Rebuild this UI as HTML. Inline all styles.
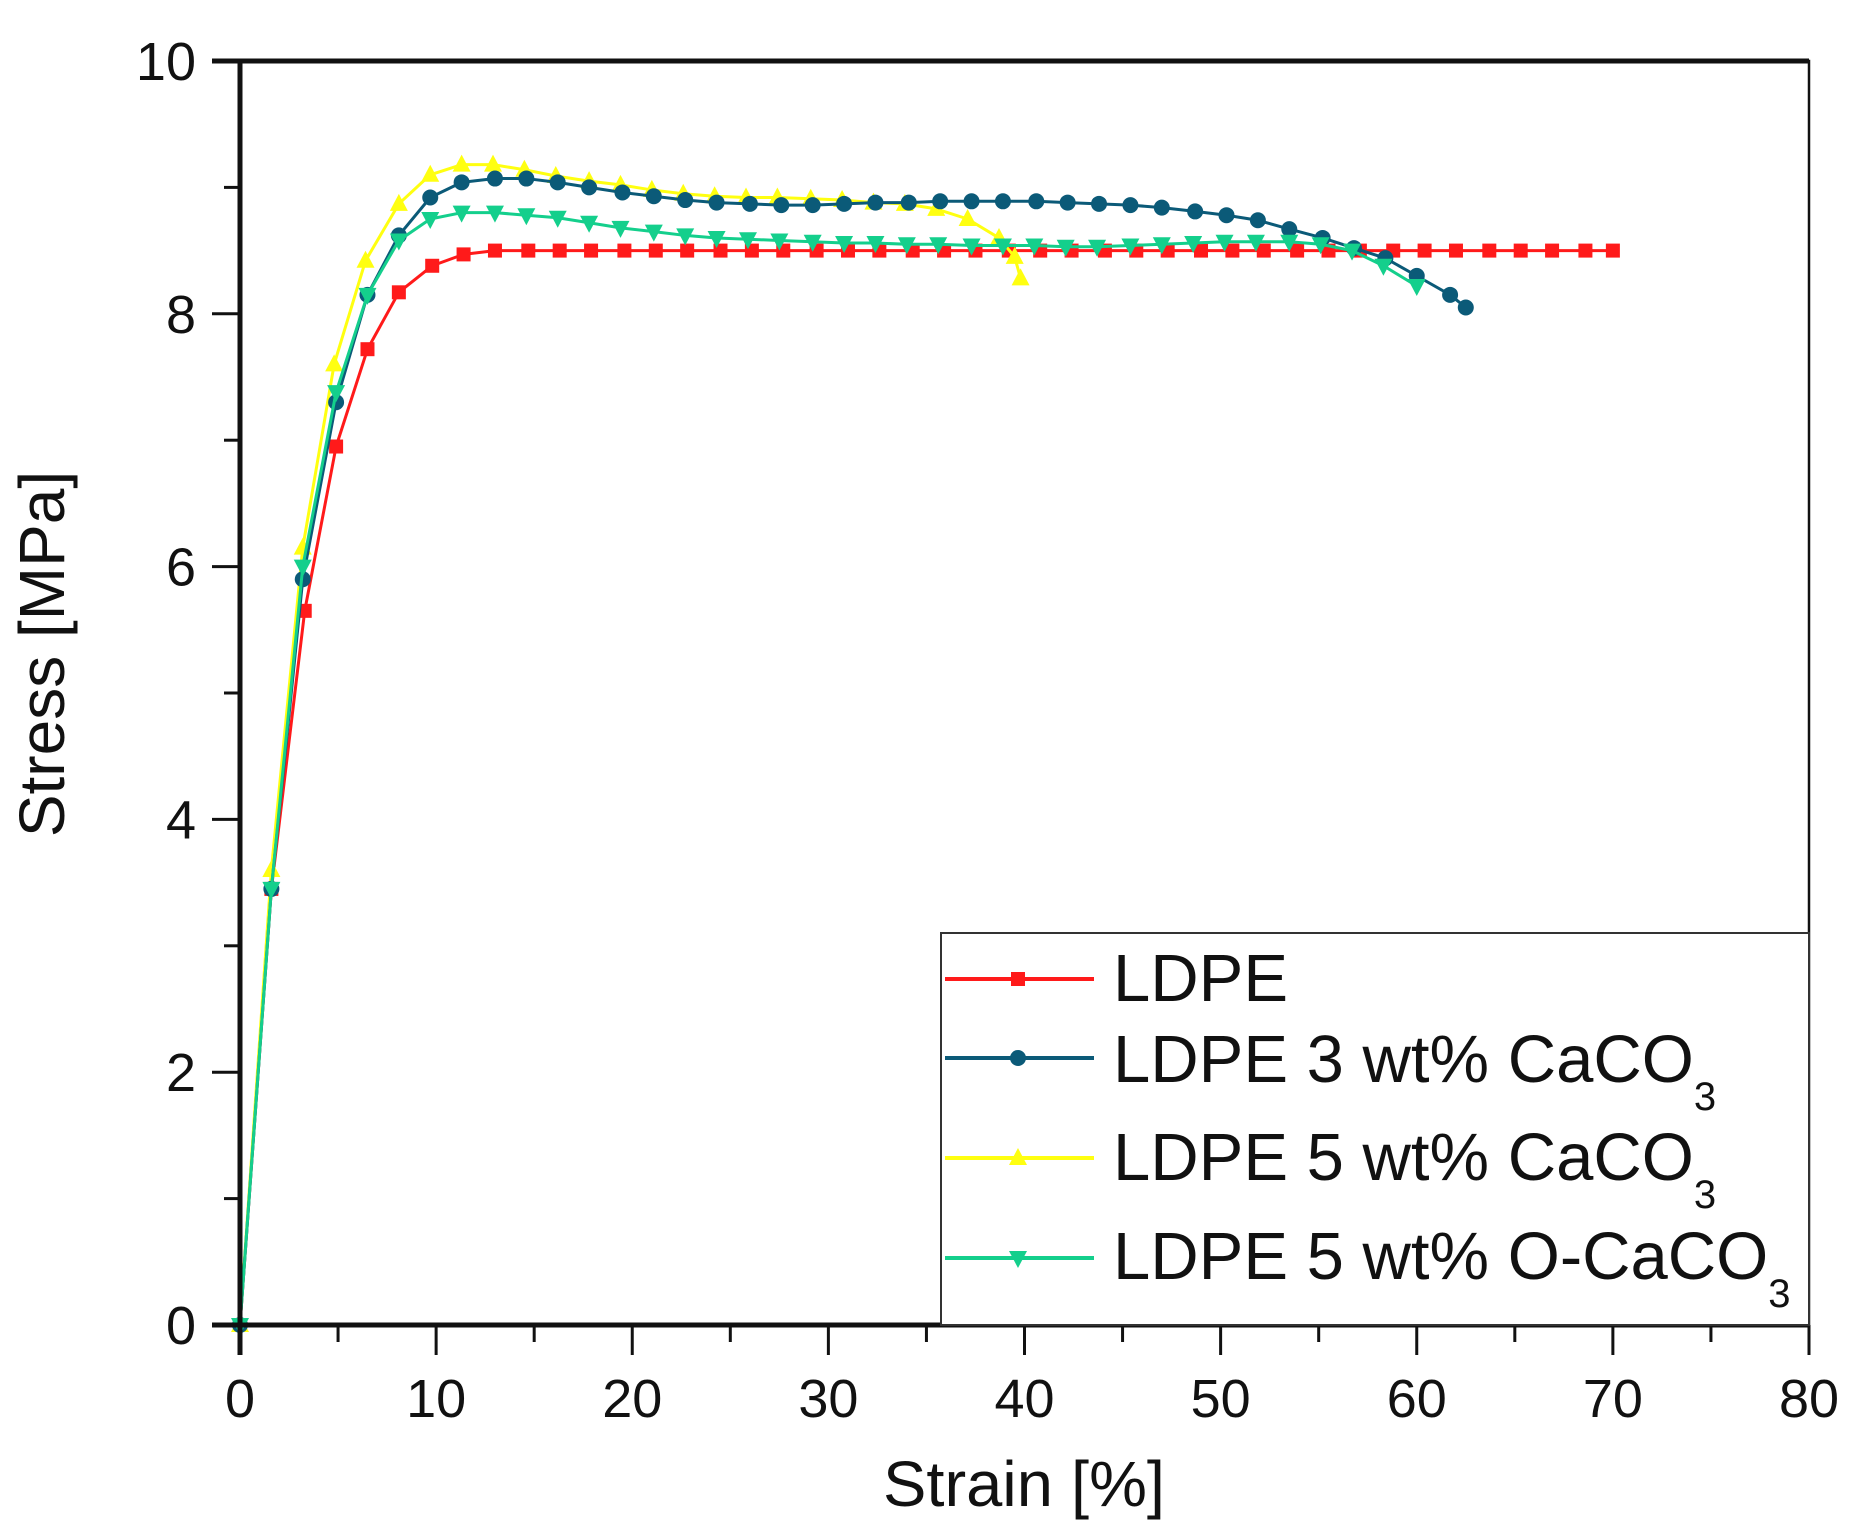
<!DOCTYPE html>
<html><head><meta charset="utf-8"><style>
html,body{margin:0;padding:0;background:#fff;}
svg{display:block;font-family:"Liberation Sans",Arial,sans-serif;}
</style></head><body>
<svg id="chart" width="1854" height="1539" viewBox="0 0 1854 1539" xmlns="http://www.w3.org/2000/svg">
<rect width="1854" height="1539" fill="#fff"/>
<g id="grid"></g>
<g id="series"></g>
<g id="axes"></g>
<g id="legend"></g>
<text x="1024" y="1506" font-size="64" text-anchor="middle" fill="#111" textLength="282" lengthAdjust="spacingAndGlyphs">Strain [%]</text>
<text x="64" y="654" font-size="64" text-anchor="middle" fill="#111" transform="rotate(-90 64 654)">Stress [MPa]</text>
</svg>
<script>
const xTicks=[0,10,20,30,40,50,60,70,80];
const yTicks=[0,2,4,6,8,10];
const ldpeX=[0,1.6,3.3,4.9,6.5,8.1,9.8,11.4,13,14.7,16.3,17.9,19.6,21.2,22.8,24.5,26.1,27.7,29.4,31,32.6,34.3,35.9,37.5,39.2,40.8,42.4,44.1,45.7,47.3,49,50.6,52.2,53.9,55.5,57.1,58.8,60.4,62,63.7,65.3,66.9,68.6,70];
const ldpeY=[0,3.45,5.65,6.95,7.72,8.17,8.38,8.47,8.5,8.5,8.5,8.5,8.5,8.5,8.5,8.5,8.5,8.5,8.5,8.5,8.5,8.5,8.5,8.5,8.5,8.5,8.5,8.5,8.5,8.5,8.5,8.5,8.5,8.5,8.5,8.5,8.5,8.5,8.5,8.5,8.5,8.5,8.5,8.5];
const ca3X=[0,1.6,3.2,4.9,6.5,8.1,9.7,11.3,13,14.6,16.2,17.8,19.5,21.1,22.7,24.3,26,27.6,29.2,30.8,32.4,34.1,35.7,37.3,38.9,40.6,42.2,43.8,45.4,47,48.7,50.3,51.9,53.5,55.2,56.8,58.4,60,61.7,62.5];
const ca3Y=[0,3.45,5.9,7.3,8.15,8.62,8.92,9.04,9.07,9.07,9.04,9.0,8.96,8.93,8.9,8.88,8.87,8.86,8.86,8.87,8.88,8.88,8.89,8.89,8.89,8.89,8.88,8.87,8.86,8.84,8.81,8.78,8.74,8.67,8.6,8.52,8.44,8.3,8.15,8.05];
const ca5X=[0,1.6,3.2,4.8,6.4,8.1,9.7,11.3,12.9,14.5,16.1,17.8,19.4,21,22.6,24.2,25.8,27.4,29.1,30.7,32.3,33.9,35.5,37.1,38.7,39.5,39.8];
const ca5Y=[0,3.6,6.15,7.6,8.42,8.87,9.1,9.18,9.18,9.14,9.09,9.05,9.02,8.98,8.95,8.93,8.92,8.92,8.91,8.9,8.88,8.87,8.83,8.75,8.6,8.45,8.28];
const oX=[0,1.6,3.2,4.9,6.5,8.1,9.7,11.3,13,14.6,16.2,17.8,19.4,21.1,22.7,24.3,25.9,27.5,29.2,30.8,32.4,34,35.6,37.3,38.9,40.5,42.1,43.7,45.4,47,48.6,50.2,51.8,53.5,55.1,56.7,58.3,60];
const oY=[0,3.45,6.0,7.38,8.15,8.58,8.75,8.8,8.8,8.78,8.76,8.72,8.68,8.65,8.62,8.6,8.59,8.58,8.57,8.56,8.56,8.55,8.55,8.54,8.54,8.54,8.53,8.53,8.54,8.55,8.56,8.57,8.57,8.57,8.55,8.5,8.38,8.22];
const seriesNames=["LDPE","LDPE 3 wt% CaCO","LDPE 5 wt% CaCO","LDPE 5 wt% O-CaCO"];

const NS="http://www.w3.org/2000/svg";
const L=240,R=1809,T=61,B=1325;
const sx=v=>L+(v-0)/80*(R-L);
const sy=v=>B-(v-0)/10*(B-T);
function mk(tag,attrs,parent){const e=document.createElementNS(NS,tag);for(const k in attrs)e.setAttribute(k,attrs[k]);parent.appendChild(e);return e;}
const axes=document.getElementById('axes'),ser=document.getElementById('series'),leg=document.getElementById('legend');

let fr=mk('rect',{x:L,y:T,width:R-L,height:B-T,fill:'none',stroke:'#111','stroke-width':2.5},axes);


let xa=mk('line',{x1:L-28,y1:B,x2:R,y2:B,stroke:'#111','stroke-width':5},axes);


let ya=mk('line',{x1:L,y1:T,x2:L,y2:B+30,stroke:'#111','stroke-width':5},axes);


let topl=mk('line',{x1:L-28,y1:T,x2:R,y2:T,stroke:'#111','stroke-width':5},axes);



xTicks.forEach((v,i)=>{
  let t=mk('line',{x1:sx(v),y1:B,x2:sx(v),y2:B+30,stroke:'#111','stroke-width':3},axes);
  
  
  if(i<xTicks.length-1){let m=mk('line',{x1:sx(v+5),y1:B,x2:sx(v+5),y2:B+17,stroke:'#111','stroke-width':3},axes);
  
  }
  let tx=mk('text',{x:sx(v),y:1417,'font-size':54,'text-anchor':'middle',fill:'#111'},axes);tx.textContent=v;
  
  
});
yTicks.forEach((v,i)=>{
  let t=mk('line',{x1:L-28,y1:sy(v),x2:L,y2:sy(v),stroke:'#111','stroke-width':3},axes);
  
  
  if(i<yTicks.length-1){let m=mk('line',{x1:L-16,y1:sy(v+1),x2:L,y2:sy(v+1),stroke:'#111','stroke-width':3},axes);
  
  }
  let tx=mk('text',{x:196,y:sy(v)+19,'font-size':54,'text-anchor':'end',fill:'#111'},axes);tx.textContent=v;
  
  
});

function marker(type,x,y,c,g){
  let e;
  if(type==='sq')e=mk('rect',{x:x-7,y:y-7,width:14,height:14,fill:c},g);
  else if(type==='ci')e=mk('circle',{cx:x,cy:y,r:8,fill:c},g);
  else if(type==='up')e=mk('polygon',{points:`${x},${y-10} ${x+9},${y+7} ${x-9},${y+7}`,fill:c},g);
  else e=mk('polygon',{points:`${x},${y+10} ${x+9},${y-7} ${x-9},${y-7}`,fill:c},g);
  return e;
}
const defs=[[ldpeX,ldpeY,'#ff1a1a','sq','ldpe'],[ca3X,ca3Y,'#0b5a78','ci','ldpe-3-caco3'],[ca5X,ca5Y,'#ffff10','up','ldpe-5-caco3'],[oX,oY,'#14cf8c','dn','ldpe-5-o-caco3']];
const order=[0,2,1,3];
order.forEach(k=>{
  const [xs,ys,c,m,n]=defs[k];
  const g=mk('g',{},ser);
  
  
  const pl=mk('polyline',{points:xs.map((x,i)=>sx(x)+','+sy(ys[i])).join(' '),fill:'none',stroke:c,'stroke-width':3,'stroke-linejoin':'round'},g);
  
  
  xs.forEach((x,i)=>{const e=marker(m,sx(x),sy(ys[i]),c,g);
    
    });
});

const lb=mk('rect',{x:941,y:933,width:868,height:392,fill:'#fff',stroke:'#333','stroke-width':2},leg);


const ly=[979,1058,1158,1258],lt=[1001,1082,1180,1279];
defs.forEach((d,i)=>{
  const g=mk('g',{},leg);
  
  
  mk('line',{x1:945,y1:ly[i],x2:1094,y2:ly[i],stroke:d[2],'stroke-width':4},g);
  marker(d[3],1018,ly[i],d[2],g);
  const t=mk('text',{x:1113,y:lt[i],'font-size':67,fill:'#111'},g);
  
  
  t.textContent=seriesNames[i];
  if(i>0){const s=mk('tspan',{'font-size':40,dy:28},t);s.textContent='3';}
});
</script>
</body></html>
